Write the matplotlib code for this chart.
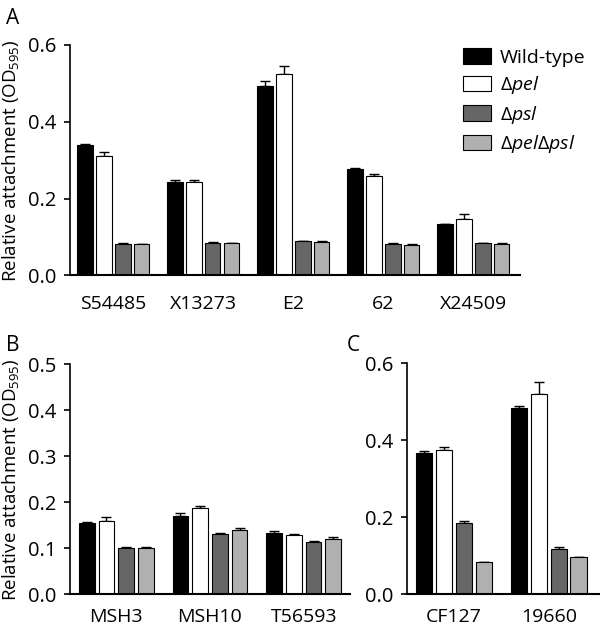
import numpy as np
import matplotlib
matplotlib.use("Agg")
import matplotlib.pyplot as plt
from matplotlib.patches import Patch

plt.rcParams['font.family'] = ['Open Sans', 'DejaVu Sans']
plt.rcParams['mathtext.fontset'] = 'custom'
plt.rcParams['mathtext.rm'] = 'Open Sans'
plt.rcParams['mathtext.it'] = 'Open Sans:italic'

# strains / values
strains_a = ["S54485", "X13273", "E2", "62", "X24509"]
wt_a = [0.339, 0.244, 0.493, 0.277, 0.133]
pel_a = [0.312, 0.242, 0.525, 0.258, 0.147]
psl_a = [0.082, 0.085, 0.089, 0.082, 0.083]
pelpsl_a = [0.081, 0.084, 0.088, 0.080, 0.082]
wt_a_err = [0.004, 0.003, 0.012, 0.003, 0.0]
pel_a_err = [0.008, 0.006, 0.020, 0.006, 0.013]
psl_a_err = [0.001, 0.001, 0.001, 0.001, 0.001]
pelpsl_a_err = [0.001, 0.001, 0.002, 0.001, 0.001]

strains_b = ["MSH3", "MSH10", "T56593"]
wt_b = [0.154, 0.170, 0.134]
pel_b = [0.159, 0.187, 0.129]
psl_b = [0.101, 0.132, 0.114]
pelpsl_b = [0.101, 0.140, 0.121]
wt_b_err = [0.003, 0.006, 0.003]
pel_b_err = [0.008, 0.006, 0.002]
psl_b_err = [0.001, 0.002, 0.002]
pelpsl_b_err = [0.001, 0.005, 0.003]

strains_c = ["CF127", "19660"]
wt_c = [0.367, 0.483]
pel_c = [0.375, 0.521]
psl_c = [0.186, 0.118]
pelpsl_c = [0.083, 0.096]
wt_c_err = [0.004, 0.007]
pel_c_err = [0.007, 0.031]
psl_c_err = [0.003, 0.004]
pelpsl_c_err = [0.001, 0.001]

labels = ["Wild-type", r"Δ$\mathit{pel}$", r"Δ$\mathit{psl}$", r"Δ$\mathit{pel}$Δ$\mathit{psl}$"]
colors = ["black", "white", "#666666", "#b0b0b0"]

YLABEL = r"Relative attachment (OD$_{595}$)"


def bars(ax, strains, series, errs, width=0.167, pitch=0.211, xpad=14):
    x = np.arange(len(strains))
    for k, (vals, err) in enumerate(zip(series, errs)):
        pos = x + (k - 1.5) * pitch
        ax.bar(pos, vals, width, color=colors[k], edgecolor="black", linewidth=0.8, zorder=2)
        ax.errorbar(pos, vals, yerr=[np.zeros(len(vals)), err], fmt="none",
                    ecolor="black", elinewidth=1.0, capsize=3.5, capthick=1.0, zorder=1)
    ax.set_xticks(x)
    ax.set_xticklabels(strains, fontsize=14)
    ax.tick_params(axis="x", length=0, pad=xpad)
    ax.tick_params(axis="y", direction="out", length=4, width=1.2, labelsize=14.5, pad=6)
    for s in ["top", "right"]:
        ax.spines[s].set_visible(False)
    ax.spines["left"].set_linewidth(1.2)
    ax.spines["bottom"].set_linewidth(1.5)


fig = plt.figure(figsize=(6.0, 6.3), dpi=100)

axA = fig.add_axes([0.1167, 0.563, 0.75, 0.3656])
bars(axA, strains_a, [wt_a, pel_a, psl_a, pelpsl_a],
     [wt_a_err, pel_a_err, psl_a_err, pelpsl_a_err], width=0.167, pitch=0.211)
axA.set_xlim(-0.483, 4.517)
axA.set_ylim(0, 0.6)
axA.set_yticks([0.0, 0.2, 0.4, 0.6])
axA.set_yticklabels(["0.0", "0.2", "0.4", "0.6"])
axA.set_ylabel(YLABEL, fontsize=13.5, labelpad=5)

handles = [Patch(facecolor=c, edgecolor="black", linewidth=0.8) for c in colors]
axA.legend(handles, labels, loc="upper left", bbox_to_anchor=(0.873, 0.985), frameon=False,
           fontsize=14, handlelength=1.45, handleheight=0.85, labelspacing=0.38,
           handletextpad=0.45, borderpad=0, borderaxespad=0)

axB = fig.add_axes([0.1167, 0.0567, 0.4667, 0.365])
bars(axB, strains_b, [wt_b, pel_b, psl_b, pelpsl_b],
     [wt_b_err, pel_b_err, psl_b_err, pelpsl_b_err], width=0.167, pitch=0.21, xpad=10)
axB.set_xlim(-0.493, 2.494)
axB.set_ylim(0, 0.5)
axB.set_yticks([0.0, 0.1, 0.2, 0.3, 0.4, 0.5])
axB.set_yticklabels(["0.0", "0.1", "0.2", "0.3", "0.4", "0.5"])
axB.set_ylabel(YLABEL, fontsize=13.5, labelpad=5)

axC = fig.add_axes([0.678, 0.0571, 0.322, 0.3662])
bars(axC, strains_c, [wt_c, pel_c, psl_c, pelpsl_c],
     [wt_c_err, pel_c_err, psl_c_err, pelpsl_c_err], width=0.172, pitch=0.21, xpad=10)
axC.set_xlim(-0.495, 1.54)
axC.set_ylim(0, 0.6)
axC.set_yticks([0.0, 0.2, 0.4, 0.6])
axC.set_yticklabels(["0.0", "0.2", "0.4", "0.6"])

fig.text(0.01, 0.987, "A", fontsize=15, va="top")
fig.text(0.01, 0.468, "B", fontsize=15, va="top")
fig.text(0.578, 0.468, "C", fontsize=15, va="top")

fig.savefig("out.png", dpi=100)
